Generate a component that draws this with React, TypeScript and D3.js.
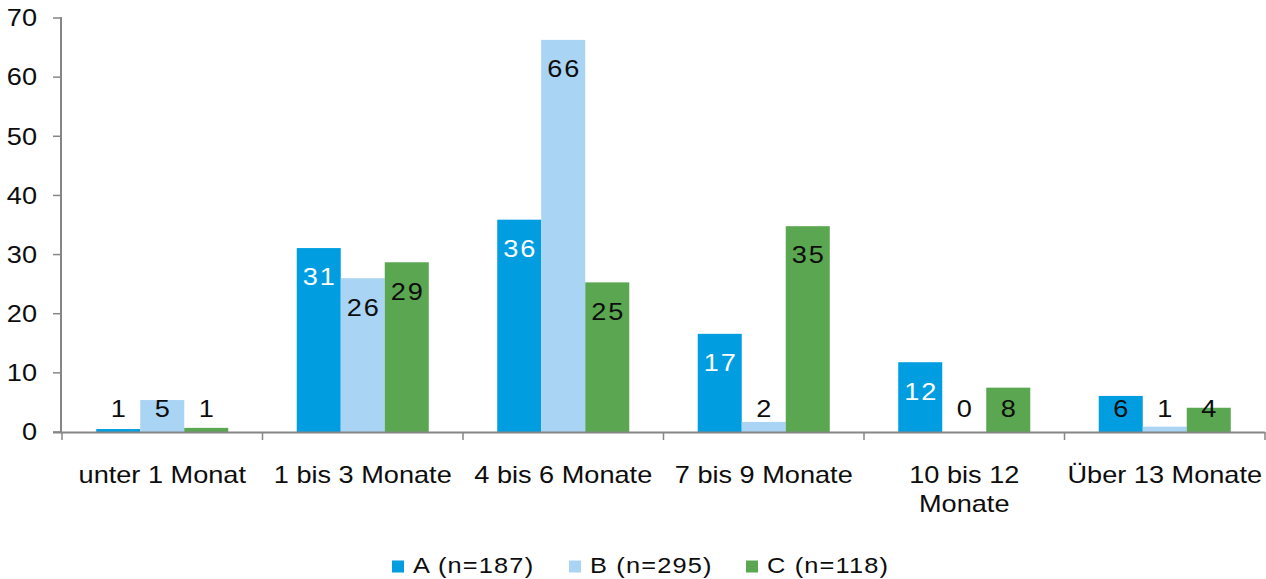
import React from "react";
import * as d3 from "d3";

const categories = [
  "unter 1 Monat",
  "1 bis 3 Monate",
  "4 bis 6 Monate",
  "7 bis 9 Monate",
  "10 bis 12 Monate",
  "Über 13 Monate",
];
const categoryLines = [
  ["unter 1 Monat"],
  ["1 bis 3 Monate"],
  ["4 bis 6 Monate"],
  ["7 bis 9 Monate"],
  ["10 bis 12", "Monate"],
  ["Über 13 Monate"],
];
const seriesNames = ["A (n=187)", "B (n=295)", "C (n=118)"];
const seriesA = [0.5, 31.1, 35.9, 16.6, 11.8, 6.1];
const seriesB = [5.4, 26.0, 66.3, 1.7, 0, 0.9];
const seriesC = [0.7, 28.7, 25.3, 34.8, 7.5, 4.1];
const yTicks = [0, 10, 20, 30, 40, 50, 60, 70];

const colors = ["#009EE0", "#A9D4F4", "#5BA651"];
const FONT = "'Liberation Sans', Arial, sans-serif";
const AXIS = "#868686";
const TEXT = "#0d0d0d";
const SX = 1.18;

type STProps = {
  x: number;
  y: number;
  anchor?: "start" | "middle" | "end";
  size: number;
  spacing?: number;
  fill?: string;
  children: React.ReactNode;
};

function SText({ x, y, anchor = "start", size, spacing = 0, fill = TEXT, children }: STProps) {
  return (
    <text
      transform={`translate(${x},${y}) scale(${SX},1)`}
      textAnchor={anchor}
      fontSize={size}
      letterSpacing={spacing}
      fill={fill}
    >
      {children}
    </text>
  );
}

export default function App() {
  const W = 1266;
  const H = 579;
  const left = 62;
  const right = 1265;
  const top = 18;
  const bottom = 432;

  const allSeries = [seriesA, seriesB, seriesC];

  const x0 = d3.scaleBand<string>().domain(categories).range([left, right]).paddingInner(0).paddingOuter(0);
  const x1 = d3
    .scaleBand<string>()
    .domain(seriesNames)
    .range([0, x0.bandwidth()])
    .paddingInner(0)
    .paddingOuter(0.778);
  const y = d3.scaleLinear().domain([0, 70]).range([bottom, top]);

  const labelMaxY = bottom - 23;

  return (
    <svg
      width={W}
      height={H}
      style={{ position: "absolute", left: 0, top: 0, background: "#fff" }}
      fontFamily={FONT}
    >
      {/* bars */}
      {allSeries.map((vals, si) =>
        vals.map((v, ci) => {
          const bx = (x0(categories[ci]) as number) + (x1(seriesNames[si]) as number);
          const by = y(v);
          return (
            <rect
              key={`b${si}-${ci}`}
              x={bx}
              y={by}
              width={x1.bandwidth()}
              height={bottom - by}
              fill={colors[si]}
            />
          );
        })
      )}

      {/* data labels */}
      {allSeries.map((vals, si) =>
        vals.map((v, ci) => {
          const bx = (x0(categories[ci]) as number) + (x1(seriesNames[si]) as number) + x1.bandwidth() / 2;
          const inside = y(v) + 29 <= labelMaxY;
          const cy = Math.min(y(v) + 29, labelMaxY);
          const fill = si === 0 && inside ? "#ffffff" : TEXT;
          return (
            <SText key={`l${si}-${ci}`} x={bx + 1} y={cy + 8.3} anchor="middle" size={23} spacing={1.6} fill={fill}>
              {Math.round(v)}
            </SText>
          );
        })
      )}

      {/* y axis */}
      <line x1={61} x2={61} y1={top - 1} y2={bottom + 1} stroke={AXIS} strokeWidth={2} />
      {yTicks.map((t) => (
        <g key={`yt${t}`}>
          <line x1={53} x2={61} y1={y(t)} y2={y(t)} stroke={AXIS} strokeWidth={1.5} />
          <SText x={37} y={y(t) + 8.3} anchor="end" size={23}>
            {t}
          </SText>
        </g>
      ))}

      {/* x axis */}
      <line x1={53} x2={right} y1={bottom + 0.5} y2={bottom + 0.5} stroke={AXIS} strokeWidth={2} />
      {[...categories.map((c) => x0(c) as number), right].map((tx, i) => (
        <line key={`xt${i}`} x1={tx} x2={tx} y1={bottom} y2={bottom + 8} stroke={AXIS} strokeWidth={1.5} />
      ))}
      {categories.map((c, ci) => (
        <SText key={`c${ci}`} x={(x0(c) as number) + x0.bandwidth() / 2} y={482.5} anchor="middle" size={23}>
          {categoryLines[ci].map((ln, li) => (
            <tspan key={li} x={0} dy={li === 0 ? 0 : 29.5}>
              {ln}
            </tspan>
          ))}
        </SText>
      ))}

      {/* legend */}
      {seriesNames.map((s, si) => {
        const lx = 392 + si * 177;
        return (
          <g key={`lg${si}`}>
            <rect x={lx} y={560.5} width={12} height={12} fill={colors[si]} />
            <SText x={lx + 21} y={573} size={21.5} spacing={1}>
              {s}
            </SText>
          </g>
        );
      })}
    </svg>
  );
}
